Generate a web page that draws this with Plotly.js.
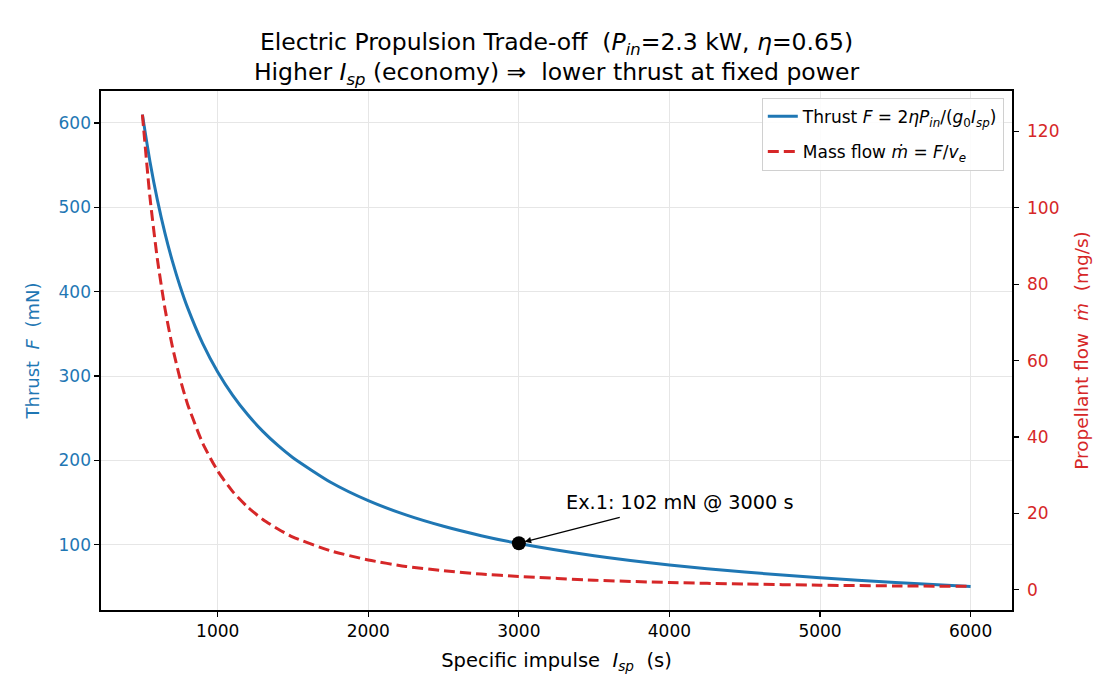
<!DOCTYPE html>
<html>
<head>
<meta charset="utf-8">
<script src="https://cdn.plot.ly/plotly-3.0.1.min.js"></script>
<style>
  html, body { margin: 0; padding: 0; background: #ffffff; }
  #chart { width: 1120px; height: 700px; }
</style>
</head>
<body>
<div id="chart"></div>
<script>
// Specific impulse samples (s)
const isp = [500, 550, 600, 650, 700, 750, 800, 900, 1000, 1100, 1200, 1300, 1400, 1500,
             1750, 2000, 2250, 2500, 2750, 3000, 3500, 4000, 4500, 5000, 5500, 6000];

// Thrust at each Isp (mN)
const thrust = [609.8, 554.4, 508.2, 469.1, 435.6, 406.5, 381.1, 338.8, 304.9, 277.2, 254.1, 234.5, 217.8, 203.3,
                174.2, 152.4, 135.5, 122.0, 110.9, 101.6, 87.1, 76.2, 67.8, 61.0, 55.4, 50.8];

// Propellant mass flow at each Isp (mg/s)
const massFlow = [124.4, 102.8, 86.4, 73.6, 63.5, 55.3, 48.6, 38.4, 31.1, 25.7, 21.6, 18.4, 15.9, 13.8,
                  10.2, 7.8, 6.1, 5.0, 4.1, 3.5, 2.5, 1.9, 1.5, 1.2, 1.0, 0.9];

// Worked example
const exampleIsp = 3000;
const exampleThrust = 102;

const BLUE = '#1f77b4';
const RED = '#d62728';
const FONT = 'DejaVu Sans, Verdana, sans-serif';
const NB = '\u00a0';

const traces = [
  {
    x: isp, y: thrust, type: 'scatter', mode: 'lines',
    name: 'Thrust <i>F</i> = 2<i>ηP</i><sub><i>in</i></sub>/(<i>g</i><sub>0</sub><i>I</i><sub><i>sp</i></sub>)',
    line: { color: BLUE, width: 3, shape: 'spline', smoothing: 0.6 },
    legendgroup: 'a', xaxis: 'x', yaxis: 'y'
  },
  {
    x: isp, y: massFlow, type: 'scatter', mode: 'lines',
    name: 'Mass flow <i>m\u0307</i> = <i>F</i>/<i>v</i><sub><i>e</i></sub>',
    line: { color: RED, width: 3, dash: '11px,5px', shape: 'spline', smoothing: 0.6 },
    legendgroup: 'b', xaxis: 'x', yaxis: 'y2'
  },
  {
    x: [exampleIsp], y: [exampleThrust], type: 'scatter', mode: 'markers',
    marker: { color: '#000000', size: 14 },
    showlegend: false, xaxis: 'x', yaxis: 'y'
  }
];

const layout = {
  width: 1120, height: 700,
  paper_bgcolor: '#ffffff', plot_bgcolor: '#ffffff',
  margin: { l: 101, r: 108, t: 91, b: 90, pad: 0 },
  font: { family: FONT, size: 17, color: '#000000' },
  title: {
    text: 'Electric Propulsion Trade-off' + NB + NB + '(<i>P</i><sub><i>in</i></sub>=2.3 kW, <i>η</i>=0.65)<br>' +
          'Higher <i>I</i><sub><i>sp</i></sub> (economy) ⇒' + NB + ' lower thrust at fixed power',
    font: { family: FONT, size: 23.5, color: '#000000' },
    x: 0.5, xanchor: 'center', xref: 'paper',
    y: 0.929, yanchor: 'middle', yref: 'container'
  },
  showlegend: true,
  legend: {
    x: 0.991, y: 0.987, xanchor: 'right', yanchor: 'top',
    bgcolor: 'rgba(255,255,255,0.85)', bordercolor: '#d0d0d0', borderwidth: 1,
    font: { family: FONT, size: 17, color: '#000000' },
    tracegroupgap: 10
  },
  xaxis: {
    range: [225, 6275], tickvals: [1000, 2000, 3000, 4000, 5000, 6000],
    ticks: 'outside', ticklen: 5, tickwidth: 1.2, tickcolor: '#000000',
    showline: true, linecolor: '#000000', linewidth: 1.6, mirror: true,
    showgrid: true, gridcolor: '#e6e6e6', gridwidth: 1, zeroline: false,
    tickfont: { family: FONT, size: 17, color: '#000000' },
    title: { text: 'Specific impulse' + NB + NB + '<i>I</i><sub><i>sp</i></sub>' + NB + NB + '(s)',
             font: { family: FONT, size: 19.5, color: '#000000' }, standoff: 13 }
  },
  yaxis: {
    range: [22.85, 637.8], tickvals: [100, 200, 300, 400, 500, 600],
    ticks: 'outside', ticklen: 5, tickwidth: 1.2, tickcolor: '#000000',
    showline: true, linecolor: '#000000', linewidth: 1.6,
    showgrid: true, gridcolor: '#e6e6e6', gridwidth: 1, zeroline: false,
    tickfont: { family: FONT, size: 17, color: BLUE },
    title: { text: 'Thrust' + NB + NB + '<i>F</i>' + NB + NB + '(mN)',
             font: { family: FONT, size: 18, color: BLUE }, standoff: 14 }
  },
  yaxis2: {
    overlaying: 'y', side: 'right',
    range: [-5.3, 130.6], tickvals: [0, 20, 40, 60, 80, 100, 120],
    ticks: 'outside', ticklen: 5, tickwidth: 1.2, tickcolor: '#000000',
    ticklabelstandoff: 5,
    showline: true, linecolor: '#000000', linewidth: 1.6,
    showgrid: false, zeroline: false,
    tickfont: { family: FONT, size: 17, color: RED },
    title: { text: 'Propellant flow' + NB + NB + '<i>m\u0307</i>' + NB + NB + '(mg/s)',
             font: { family: FONT, size: 18.5, color: RED }, standoff: 16 }
  },
  annotations: [
    {
      x: exampleIsp, y: exampleThrust, xref: 'x', yref: 'y',
      ax: 3680, ay: 133, axref: 'x', ayref: 'y',
      text: '', showarrow: true, arrowhead: 2, arrowsize: 1, arrowwidth: 1.3,
      arrowcolor: '#000000', standoff: 6
    },
    {
      x: 3300, y: 150.5, xref: 'x', yref: 'y',
      xanchor: 'left', yanchor: 'middle',
      text: 'Ex.1: ' + exampleThrust + ' mN @ ' + exampleIsp + ' s',
      showarrow: false,
      font: { family: FONT, size: 19.3, color: '#000000' }
    }
  ]
};

Plotly.newPlot('chart', traces, layout, { staticPlot: true, displayModeBar: false });
</script>
</body>
</html>
